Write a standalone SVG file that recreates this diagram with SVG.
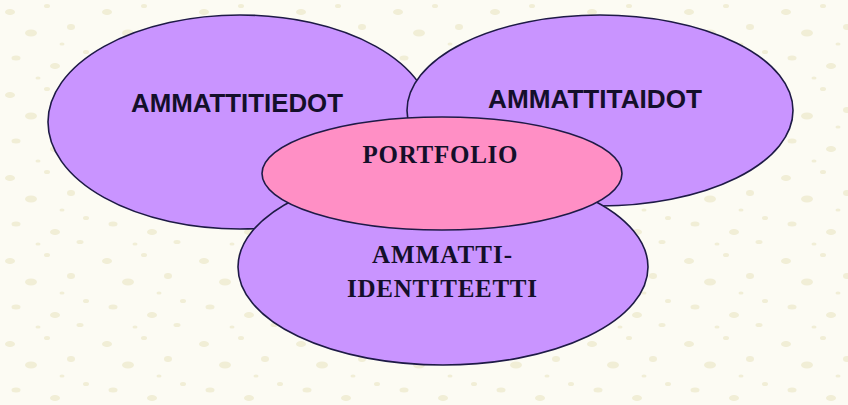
<svg xmlns="http://www.w3.org/2000/svg" width="848" height="405" viewBox="0 0 848 405">
<defs>
<style>
.bubble{fill:#C994FF;stroke:#1E1A46;stroke-width:1.6}
.core{fill:#FF8FC5;stroke:#1E1A46;stroke-width:1.6}
.sans{font-family:"Liberation Sans",Arial,sans-serif;font-weight:bold;font-size:25px;fill:#140F2A;text-anchor:middle}
.serif{font-family:"Liberation Serif","Times New Roman",serif;font-weight:bold;font-size:25px;fill:#140F2A;text-anchor:middle}
</style>
<pattern id="tex" width="97" height="83" patternUnits="userSpaceOnUse">
<rect width="97" height="83" fill="#FCFBF3"/>
<g fill="#F1EED6">
<ellipse cx="10" cy="12" rx="5" ry="3"/>
<ellipse cx="47" cy="6" rx="3" ry="2"/>
<ellipse cx="31" cy="33" rx="6" ry="3.5"/>
<ellipse cx="71" cy="27" rx="4" ry="3"/>
<ellipse cx="16" cy="58" rx="4.5" ry="2.5"/>
<ellipse cx="55" cy="66" rx="5" ry="3"/>
<ellipse cx="86" cy="52" rx="3" ry="2"/>
<ellipse cx="80" cy="76" rx="3.5" ry="2"/>
<ellipse cx="38" cy="78" rx="2.5" ry="1.5"/>
<ellipse cx="62" cy="44" rx="2.5" ry="1.5"/>
</g>
</pattern>
</defs>
<rect width="848" height="405" fill="url(#tex)"/>
<g id="connectors"/>
<g id="node-ammattitiedot">
<ellipse class="bubble" cx="240" cy="122" rx="192" ry="107"/>
<text class="sans" x="237" y="112" textLength="212" lengthAdjust="spacingAndGlyphs">AMMATTITIEDOT</text>
</g>
<g id="node-ammattitaidot">
<ellipse class="bubble" cx="600" cy="110.5" rx="193" ry="95.5"/>
<text class="sans" x="595" y="108" textLength="214" lengthAdjust="spacingAndGlyphs">AMMATTITAIDOT</text>
</g>
<g id="node-ammatti-identiteetti">
<ellipse class="bubble" cx="443" cy="267" rx="205" ry="98"/>
<text class="serif" x="442" y="263" textLength="140" lengthAdjust="spacing">AMMATTI-</text>
<text class="serif" x="442" y="297" textLength="190" lengthAdjust="spacing">IDENTITEETTI</text>
</g>
<g id="node-portfolio">
<ellipse class="core" cx="442" cy="173.5" rx="180" ry="56.5"/>
<text class="serif" x="440" y="163" textLength="155" lengthAdjust="spacing">PORTFOLIO</text>
</g>
</svg>
